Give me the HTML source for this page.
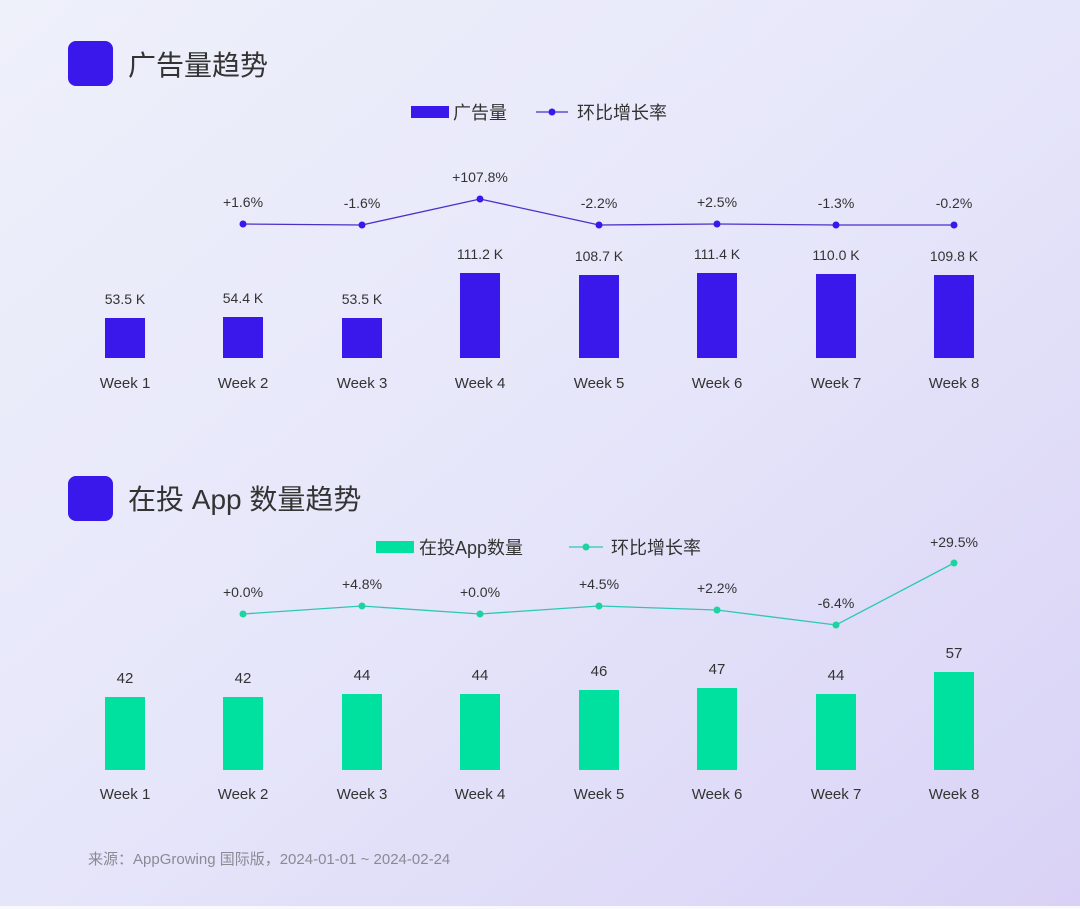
<!DOCTYPE html>
<html><head><meta charset="utf-8"><style>
html,body{margin:0;padding:0;}
body{width:1080px;height:909px;overflow:hidden;}
svg{display:block;}
text{font-family:"Liberation Sans","Noto Sans CJK SC",sans-serif;}
</style></head><body>
<svg width="1080" height="909" viewBox="0 0 1080 909" xmlns="http://www.w3.org/2000/svg">
<defs>
<linearGradient id="bg" x1="0" y1="0" x2="1" y2="1">
<stop offset="0" stop-color="#eef0fa"/>
<stop offset="0.5" stop-color="#e6e6fa"/>
<stop offset="1" stop-color="#d9d2f6"/>
</linearGradient>
</defs>
<rect width="1080" height="906" fill="url(#bg)"/>
<rect y="906" width="1080" height="3" fill="#fafafd"/>

<rect x="68" y="41" width="45" height="45" rx="8" fill="#3a17ea"/>
<text x="128" y="75" font-size="28" fill="#333">广告量趋势</text>
<rect x="411" y="106" width="38" height="12" fill="#3a17ea"/>
<text x="453" y="119" font-size="18" fill="#333">广告量</text>
<line x1="536" y1="112" x2="568" y2="112" stroke="#4a30c8" stroke-width="1.3"/>
<circle cx="552" cy="112" r="3.5" fill="#3a17ea"/>
<text x="577" y="119" font-size="18" fill="#333">环比增长率</text>

<g fill="#3a17ea">
<rect x="105" y="318" width="40" height="40"/>
<rect x="223" y="317" width="40" height="41"/>
<rect x="342" y="318" width="40" height="40"/>
<rect x="460" y="273" width="40" height="85"/>
<rect x="579" y="275" width="40" height="83"/>
<rect x="697" y="273" width="40" height="85"/>
<rect x="816" y="274" width="40" height="84"/>
<rect x="934" y="275" width="40" height="83"/>
</g>
<g font-size="14" fill="#333" text-anchor="middle">
<text x="125" y="304">53.5 K</text>
<text x="243" y="303">54.4 K</text>
<text x="362" y="304">53.5 K</text>
<text x="480" y="259">111.2 K</text>
<text x="599" y="261">108.7 K</text>
<text x="717" y="259">111.4 K</text>
<text x="836" y="260">110.0 K</text>
<text x="954" y="261">109.8 K</text>
</g>
<g font-size="15" fill="#333" text-anchor="middle">
<text x="125" y="388">Week 1</text><text x="243" y="388">Week 2</text><text x="362" y="388">Week 3</text><text x="480" y="388">Week 4</text>
<text x="599" y="388">Week 5</text><text x="717" y="388">Week 6</text><text x="836" y="388">Week 7</text><text x="954" y="388">Week 8</text>
</g>
<polyline points="243,224 362,225 480,199 599,225 717,224 836,225 954,225" fill="none" stroke="#4a30c8" stroke-width="1.3"/>
<g fill="#3a17ea">
<circle cx="243" cy="224" r="3.5"/><circle cx="362" cy="225" r="3.5"/><circle cx="480" cy="199" r="3.5"/><circle cx="599" cy="225" r="3.5"/>
<circle cx="717" cy="224" r="3.5"/><circle cx="836" cy="225" r="3.5"/><circle cx="954" cy="225" r="3.5"/>
</g>
<g font-size="14" fill="#333" text-anchor="middle">
<text x="243" y="207">+1.6%</text><text x="362" y="208">-1.6%</text><text x="480" y="182">+107.8%</text><text x="599" y="208">-2.2%</text>
<text x="717" y="207">+2.5%</text><text x="836" y="208">-1.3%</text><text x="954" y="208">-0.2%</text>
</g>

<rect x="68" y="476" width="45" height="45" rx="8" fill="#3a17ea"/>
<text x="128" y="509" font-size="28" fill="#333">在投 App 数量趋势</text>
<rect x="376" y="541" width="38" height="12" fill="#00e09e"/>
<text x="419" y="554" font-size="18" fill="#333">在投App数量</text>
<line x1="569" y1="547" x2="603" y2="547" stroke="#2cc8b4" stroke-width="1.3"/>
<circle cx="586" cy="547" r="3.5" fill="#1fd3a0"/>
<text x="611" y="554" font-size="18" fill="#333">环比增长率</text>

<g fill="#00e09e">
<rect x="105" y="697" width="40" height="73"/>
<rect x="223" y="697" width="40" height="73"/>
<rect x="342" y="694" width="40" height="76"/>
<rect x="460" y="694" width="40" height="76"/>
<rect x="579" y="690" width="40" height="80"/>
<rect x="697" y="688" width="40" height="82"/>
<rect x="816" y="694" width="40" height="76"/>
<rect x="934" y="672" width="40" height="98"/>
</g>
<g font-size="15" fill="#333" text-anchor="middle">
<text x="125" y="683">42</text><text x="243" y="683">42</text><text x="362" y="680">44</text><text x="480" y="680">44</text>
<text x="599" y="676">46</text><text x="717" y="674">47</text><text x="836" y="680">44</text><text x="954" y="658">57</text>
</g>
<g font-size="15" fill="#333" text-anchor="middle">
<text x="125" y="799">Week 1</text><text x="243" y="799">Week 2</text><text x="362" y="799">Week 3</text><text x="480" y="799">Week 4</text>
<text x="599" y="799">Week 5</text><text x="717" y="799">Week 6</text><text x="836" y="799">Week 7</text><text x="954" y="799">Week 8</text>
</g>
<polyline points="243,614 362,606 480,614 599,606 717,610 836,625 954,563" fill="none" stroke="#2cc8b4" stroke-width="1.3"/>
<g fill="#1fd3a0">
<circle cx="243" cy="614" r="3.5"/><circle cx="362" cy="606" r="3.5"/><circle cx="480" cy="614" r="3.5"/><circle cx="599" cy="606" r="3.5"/>
<circle cx="717" cy="610" r="3.5"/><circle cx="836" cy="625" r="3.5"/><circle cx="954" cy="563" r="3.5"/>
</g>
<g font-size="14" fill="#333" text-anchor="middle">
<text x="243" y="597">+0.0%</text><text x="362" y="589">+4.8%</text><text x="480" y="597">+0.0%</text><text x="599" y="589">+4.5%</text>
<text x="717" y="593">+2.2%</text><text x="836" y="608">-6.4%</text><text x="954" y="547">+29.5%</text>
</g>

<text x="88" y="864" font-size="15" fill="#8a8a95">来源：AppGrowing 国际版，2024-01-01 ~ 2024-02-24</text>
</svg>
</body></html>
